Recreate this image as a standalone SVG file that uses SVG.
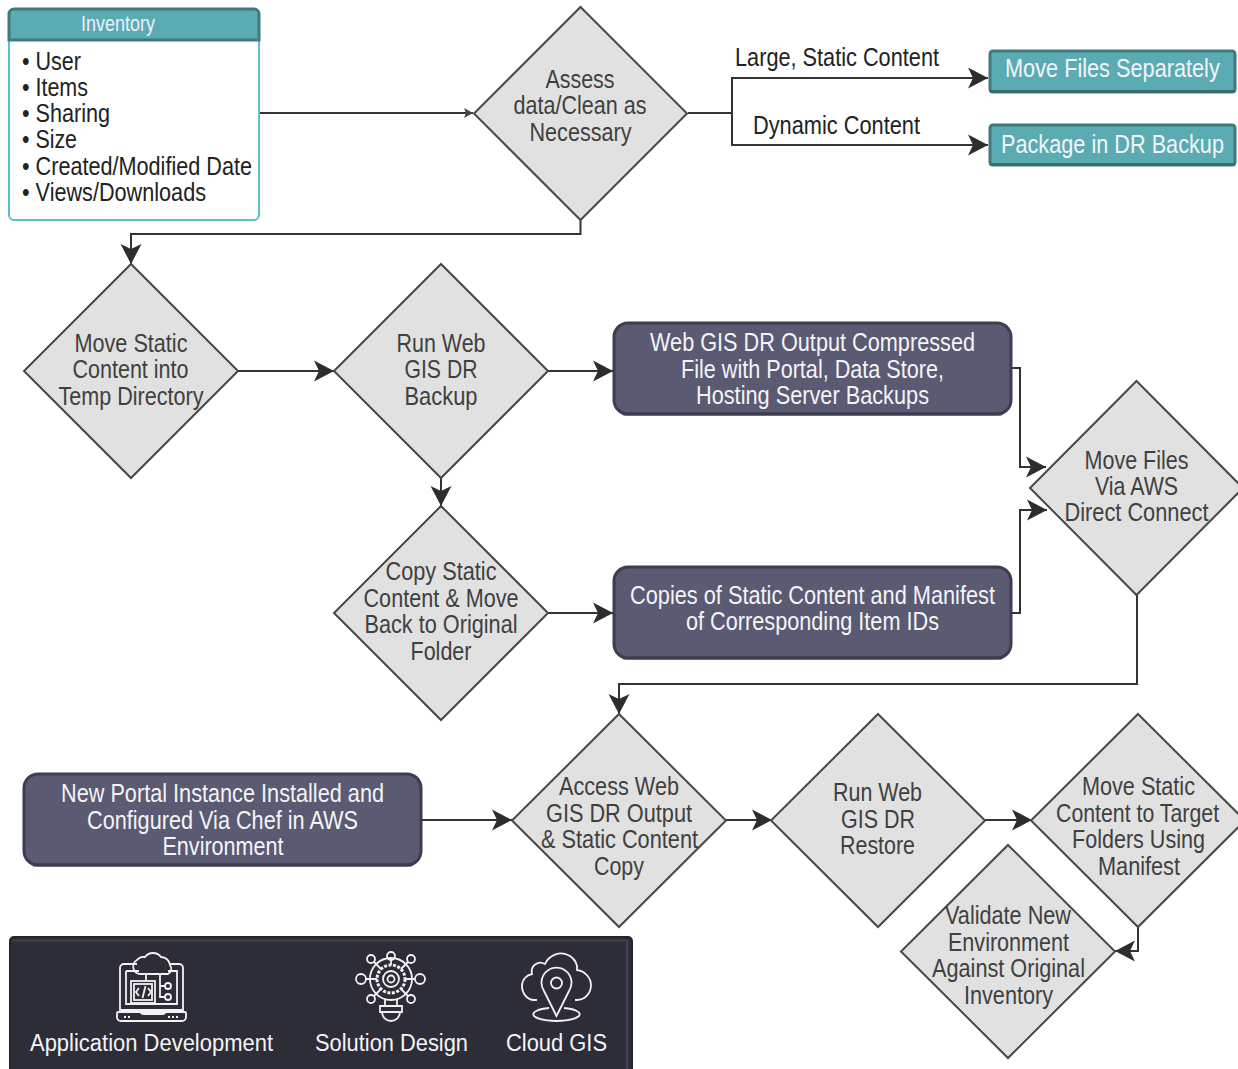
<svg xmlns="http://www.w3.org/2000/svg" width="1238" height="1069" viewBox="0 0 1238 1069">
<defs>
<marker id="ah" markerUnits="userSpaceOnUse" markerWidth="24" markerHeight="24" refX="21" refY="12" orient="auto"><path d="M1 1.500 L21 12 L1 22.500 L6 12 Z" fill="#2d2d2d"/></marker>
<marker id="ahs" markerUnits="userSpaceOnUse" markerWidth="12" markerHeight="12" refX="10" refY="6" orient="auto"><path d="M1 1 L10 6 L1 11 L3 6 Z" fill="#444"/></marker>
</defs>
<style>
text{font-family:"Liberation Sans",Arial,sans-serif;font-size:25px;text-anchor:start}
.d{fill:#e1e1e1;stroke:#474747;stroke-width:2}
.dt{fill:#404040}
.dk{fill:#5a5a72;stroke:#3d3d50;stroke-width:3}
.wt{fill:#f4f4f8}
.tl{fill:#5aacb2;stroke:#3f7a80;stroke-width:3}
.ed{fill:none;stroke-width:3;stroke-linecap:round}
.c{fill:none;stroke:#333;stroke-width:2}
.k{fill:#222}
.i{fill:none;stroke:#f2f2f2;stroke-width:1.800}
</style>
<rect width="1238" height="1069" fill="#fff"/>
<g id="connectors">
<path class="c" d="M260 113H473" marker-end="url(#ahs)"/>
<path class="c" d="M688 113H732V78H988" marker-end="url(#ah)"/>
<path class="c" d="M732 113V145H988" marker-end="url(#ah)"/>
<path class="c" d="M580.500 220V234H131V264" marker-end="url(#ah)"/>
<path class="c" d="M238 371H334" marker-end="url(#ah)"/>
<path class="c" d="M548 371H613" marker-end="url(#ah)"/>
<path class="c" d="M1011 368H1020V467H1046" marker-end="url(#ah)"/>
<path class="c" d="M1011 613H1020V510H1047" marker-end="url(#ah)"/>
<path class="c" d="M441 478V506" marker-end="url(#ah)"/>
<path class="c" d="M548 613H613" marker-end="url(#ah)"/>
<path class="c" d="M1137 595V684H619V714" marker-end="url(#ah)"/>
<path class="c" d="M421 820H512" marker-end="url(#ah)"/>
<path class="c" d="M726 820H772" marker-end="url(#ah)"/>
<path class="c" d="M985 820H1032" marker-end="url(#ah)"/>
<path class="c" d="M1138 927V951H1115" marker-end="url(#ah)"/>
</g>
<g id="inventory">
<rect x="9" y="9" width="250" height="211" rx="5" fill="#fff" stroke="#5cc0c6" stroke-width="2"/>
<path d="M9 14a5 5 0 0 1 5-5H254a5 5 0 0 1 5 5V40H9Z" fill="#5aacb2" stroke="#3f7a80" stroke-width="3"/>
<text x="81" y="31" style="font-size:22px" fill="#eef" textLength="74" lengthAdjust="spacingAndGlyphs">Inventory</text>
<g class="k">
<text x="22" y="70" textLength="59" lengthAdjust="spacingAndGlyphs">• User</text>
<text x="22" y="96" textLength="66" lengthAdjust="spacingAndGlyphs">• Items</text>
<text x="22" y="122" textLength="88" lengthAdjust="spacingAndGlyphs">• Sharing</text>
<text x="22" y="148" textLength="55" lengthAdjust="spacingAndGlyphs">• Size</text>
<text x="22" y="175" textLength="230" lengthAdjust="spacingAndGlyphs">• Created/Modified Date</text>
<text x="22" y="201" textLength="184" lengthAdjust="spacingAndGlyphs">• Views/Downloads</text>
</g>
</g>
<g id="assess"><path class="d" d="M580.500 7L687 113.500L580.500 220L474 113.500Z"/>
<g class="dt"><text x="545.500" y="88" textLength="69" lengthAdjust="spacingAndGlyphs">Assess</text><text x="513.500" y="114" textLength="133" lengthAdjust="spacingAndGlyphs">data/Clean as</text><text x="529.500" y="141" textLength="102" lengthAdjust="spacingAndGlyphs">Necessary</text></g></g>
<g id="label-large"><text class="k" x="735" y="66" textLength="204" lengthAdjust="spacingAndGlyphs">Large, Static Content</text></g>
<g id="label-dynamic"><text class="k" x="753" y="134" textLength="167" lengthAdjust="spacingAndGlyphs">Dynamic Content</text></g>
<g id="move-files-separately"><rect class="tl" x="990" y="51" width="245" height="41" rx="3"/><path class="ed" stroke="#3a6c72" d="M991 91.500H1234"/><text class="wt" transform="translate(1005 77) scale(.869 1)" x="0" y="0">Move Files Separately</text></g>
<g id="package"><rect class="tl" x="990" y="125" width="245" height="40" rx="3"/><path class="ed" stroke="#3a6c72" d="M991 164.500H1234"/><text class="wt" transform="translate(1001 153) scale(.868 1)" x="0" y="0">Package in DR Backup</text></g>
<g id="move-static"><path class="d" d="M131 264L238 371L131 478L24 371Z"/>
<g class="dt"><text x="74.500" y="352" textLength="113" lengthAdjust="spacingAndGlyphs">Move Static</text><text x="72.500" y="378" textLength="116" lengthAdjust="spacingAndGlyphs">Content into</text><text x="58.500" y="405" textLength="145" lengthAdjust="spacingAndGlyphs">Temp Directory</text></g></g>
<g id="run-backup"><path class="d" d="M441 264L548 371L441 478L334 371Z"/>
<g class="dt"><text x="396.500" y="352" textLength="89" lengthAdjust="spacingAndGlyphs">Run Web</text><text x="404.500" y="378" textLength="73" lengthAdjust="spacingAndGlyphs">GIS DR</text><text x="404.500" y="405" textLength="73" lengthAdjust="spacingAndGlyphs">Backup</text></g></g>
<g id="output"><rect class="dk" x="614" y="323" width="397" height="91" rx="14"/><path class="ed" stroke="#3d3d50" d="M624 414H1001"/>
<g class="wt"><text x="650" y="351" textLength="325" lengthAdjust="spacingAndGlyphs">Web GIS DR Output Compressed</text><text x="681" y="378" textLength="263" lengthAdjust="spacingAndGlyphs">File with Portal, Data Store,</text><text x="696" y="404" textLength="233" lengthAdjust="spacingAndGlyphs">Hosting Server Backups</text></g></g>
<g id="copy-static"><path class="d" d="M441 506L548 613L441 720L334 613Z"/>
<g class="dt"><text x="385.500" y="580" textLength="111" lengthAdjust="spacingAndGlyphs">Copy Static</text><text x="363.500" y="607" textLength="155" lengthAdjust="spacingAndGlyphs">Content &amp; Move</text><text x="364.500" y="633" textLength="153" lengthAdjust="spacingAndGlyphs">Back to Original</text><text x="410.500" y="660" textLength="61" lengthAdjust="spacingAndGlyphs">Folder</text></g></g>
<g id="copies"><rect class="dk" x="614" y="567" width="397" height="91" rx="14"/><path class="ed" stroke="#3d3d50" d="M624 658H1001"/>
<g class="wt"><text x="630" y="604" textLength="365" lengthAdjust="spacingAndGlyphs">Copies of Static Content and Manifest</text><text x="686" y="630" textLength="253" lengthAdjust="spacingAndGlyphs">of Corresponding Item IDs</text></g></g>
<g id="move-aws"><path class="d" d="M1136.500 381L1243 488L1136.500 595L1030 488Z"/>
<g class="dt"><text x="1084.500" y="469" textLength="104" lengthAdjust="spacingAndGlyphs">Move Files</text><text x="1095" y="495" textLength="83" lengthAdjust="spacingAndGlyphs">Via AWS</text><text x="1064.500" y="521" textLength="144" lengthAdjust="spacingAndGlyphs">Direct Connect</text></g></g>
<g id="new-portal"><rect class="dk" x="24" y="774" width="397" height="91" rx="14"/><path class="ed" stroke="#3d3d50" d="M34 865H411"/>
<g class="wt"><text x="61" y="802" textLength="323" lengthAdjust="spacingAndGlyphs">New Portal Instance Installed and</text><text x="87" y="829" textLength="271" lengthAdjust="spacingAndGlyphs">Configured Via Chef in AWS</text><text x="162.500" y="855" textLength="121" lengthAdjust="spacingAndGlyphs">Environment</text></g></g>
<g id="access"><path class="d" d="M619 714L726 820.500L619 927L512 820.500Z"/>
<g class="dt"><text x="559" y="795" textLength="120" lengthAdjust="spacingAndGlyphs">Access Web</text><text x="546" y="822" textLength="146" lengthAdjust="spacingAndGlyphs">GIS DR Output</text><text x="541" y="848" textLength="157" lengthAdjust="spacingAndGlyphs">&amp; Static Content</text><text x="594" y="875" textLength="50" lengthAdjust="spacingAndGlyphs">Copy</text></g></g>
<g id="restore"><path class="d" d="M878 714L985 820.500L878 927L771 820.500Z"/>
<g class="dt"><text x="833" y="801" textLength="89" lengthAdjust="spacingAndGlyphs">Run Web</text><text x="841" y="828" textLength="74" lengthAdjust="spacingAndGlyphs">GIS DR</text><text x="840" y="854" textLength="75" lengthAdjust="spacingAndGlyphs">Restore</text></g></g>
<g id="move-target"><path class="d" d="M1138 714L1245 820.500L1138 927L1031 820.500Z"/>
<g class="dt"><text x="1082" y="795" textLength="113" lengthAdjust="spacingAndGlyphs">Move Static</text><text transform="translate(1056 822) scale(.853 1)" x="0" y="0">Content to Target</text><text x="1072" y="848" textLength="133" lengthAdjust="spacingAndGlyphs">Folders Using</text><text x="1098" y="875" textLength="82" lengthAdjust="spacingAndGlyphs">Manifest</text></g></g>
<g id="validate"><path class="d" d="M1008 845L1115 951.500L1008 1058L901 951.500Z"/>
<g class="dt"><text x="945" y="924" textLength="126" lengthAdjust="spacingAndGlyphs">Validate New</text><text x="948" y="951" textLength="121" lengthAdjust="spacingAndGlyphs">Environment</text><text x="932" y="977" textLength="153" lengthAdjust="spacingAndGlyphs">Against Original</text><text x="964" y="1004" textLength="89" lengthAdjust="spacingAndGlyphs">Inventory</text></g></g>
<g id="legend">
<path d="M10 1072V941a4 4 0 0 1 4-4H628a4 4 0 0 1 4 4V1072Z" fill="#2d2d37" stroke="#24242c" stroke-width="2"/>
<path d="M12 940.500H627V1072" fill="none" stroke="#43434f" stroke-width="2"/>
<g id="icon-app" class="i">
<path d="M137 964H124a4 4 0 0 0-4 4V1010H183V968a4 4 0 0 0-4-4H170"/>
<path d="M126 971V1004H177V971H168M139 971H126"/>
<path d="M118 1012H185a1 1 0 0 1 1 1V1017a4 4 0 0 1-4 4H121a4 4 0 0 1-4-4V1013a1 1 0 0 1 1-1Z"/>
<path d="M140 1011a4 4 0 0 0 4 3H162a4 4 0 0 0 4-3"/>
<path d="M140 974a7.500 7.500 0 0 1-3-14a8 8 0 0 1 8-3a10 10 0 0 1 16 0a9 9 0 0 1 9 8a6 6 0 0 1-2 9Z"/>
<rect x="131" y="981" width="24" height="22"/>
<rect x="134" y="984" width="18" height="16"/>
<path d="M146 974V981M160 974V997H165M160 986H165M139 988l-3 4l3 4M148 988l3 4l-3 4M145.500 986l-3 12"/>
<circle cx="168" cy="986" r="3"/><circle cx="168" cy="997" r="3"/>
<path d="M124 1017h8M168 1017h10" stroke-dasharray="2 2"/>
</g>
<g id="icon-bulb" class="i">
<circle cx="391" cy="979" r="21"/><circle cx="391" cy="979" r="14" stroke-width="3" stroke-dasharray="3 1.500"/><circle cx="391" cy="979" r="8"/><circle cx="391" cy="979" r="3.500"/>
<circle cx="391" cy="956" r="4"/><circle cx="371" cy="959" r="4"/><circle cx="411" cy="959" r="4"/><circle cx="361" cy="979" r="5"/><circle cx="420" cy="979" r="5"/><circle cx="371" cy="999" r="4"/><circle cx="411" cy="999" r="4"/>
<path d="M391 960V965M374 962L381 969M408 962L401 969M366 979H377M415 979H405M374 996L381 989M408 996L401 989M385 999V1006M397 999V1006"/>
<path d="M380 1006H402V1012H380ZM382 1012H400A9 9 0 0 1 382 1012Z"/>
</g>
<g id="icon-cloud" class="i">
<path d="M537 1000H534C527 1000 522 993 522 986C522 979 527 975 532 974C530 966 538 960 545 964C549 955 560 951 568 955C575 958 578 965 577 970C585 971 591 978 591 985C591 994 584 1000 577 1000H575"/>
<path d="M556.500 1016L544 991A15 15 0 1 1 569 991Z"/>
<circle cx="556.500" cy="983" r="5.500"/>
<path d="M549 1008C527 1010 527 1020 556.500 1021C586 1020 586 1010 564 1008"/>
</g>
<text class="wt" x="30" y="1051" style="font-size:23px" textLength="243" lengthAdjust="spacingAndGlyphs">Application Development</text>
<text class="wt" x="315" y="1051" style="font-size:23px" textLength="153" lengthAdjust="spacingAndGlyphs">Solution Design</text>
<text class="wt" x="506" y="1051" style="font-size:23px" textLength="101" lengthAdjust="spacingAndGlyphs">Cloud GIS</text>
</g>
</svg>
